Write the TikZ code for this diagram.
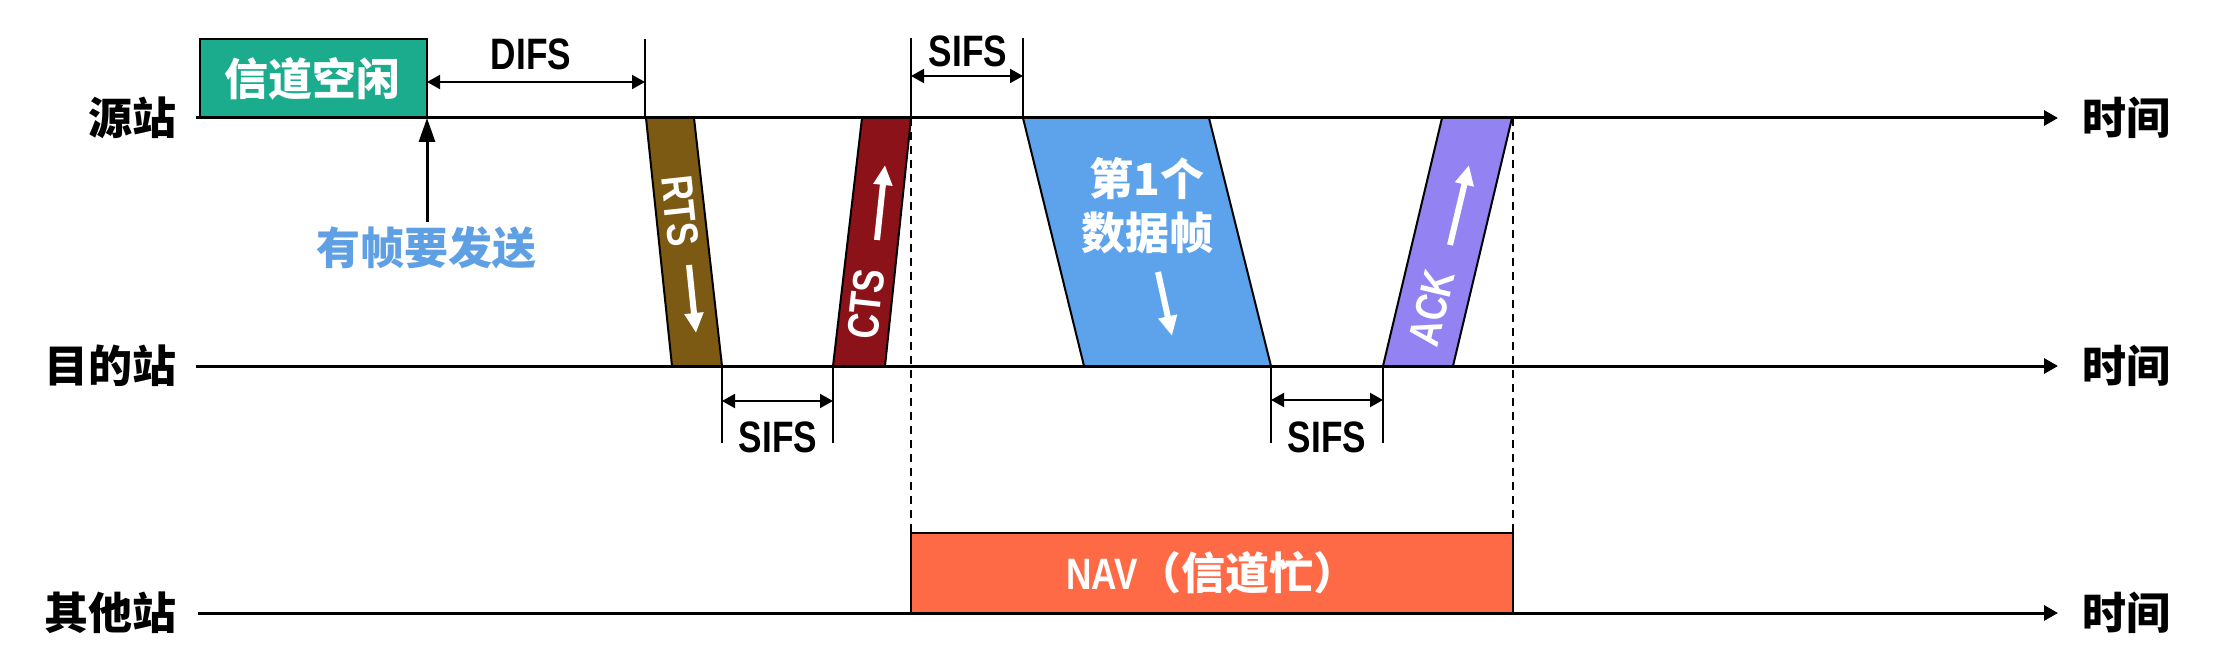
\documentclass[tikz,border=0pt]{standalone}
\usepackage{fontspec}
\setmainfont{Liberation Sans}
\newfontfamily\cjk{Noto Sans CJK SC}
\usetikzlibrary{arrows.meta}
\definecolor{idlec}{RGB}{26,172,140}
\definecolor{rtsc}{RGB}{125,90,20}
\definecolor{ctsc}{RGB}{140,18,26}
\definecolor{datac}{RGB}{92,163,236}
\definecolor{ackc}{RGB}{146,130,242}
\definecolor{navc}{RGB}{255,106,70}
\definecolor{sendc}{RGB}{95,160,228}
\newcommand\lat[1]{\scalebox{0.8}[1]{#1}}
\begin{document}
\begin{tikzpicture}[x=0.5pt,y=-0.5pt,
  font=\fontsize{22}{27}\selectfont\bfseries,
  timeline/.style={line width=1.5pt,-{Triangle[length=7pt,width=7.5pt]}},
  dimarrow/.style={line width=1pt,{Triangle[length=6.5pt,width=7pt]}-{Triangle[length=6.5pt,width=7pt]}},
  tickline/.style={line width=1pt},
  framebox/.style={draw=black,line width=1pt},
  guide/.style={line width=1pt,dash pattern=on 4pt off 3pt},
  lbl/.style={inner sep=0pt},
  wlbl/.style={inner sep=0pt,text=white},
  warrow/.style={white,line width=3pt,-{Triangle[length=10pt,width=9pt]}},
  uparrow/.style={line width=1.5pt,-{Triangle[length=12pt,width=8pt]}}]
\useasboundingbox (0,0) rectangle (2221,663);
\fill[white] (0,0) rectangle (2221,663);

% coordinates of the time lines
\coordinate (s0) at (196,118); \coordinate (s1) at (2058,118);
\coordinate (d0) at (196,366); \coordinate (d1) at (2058,366);
\coordinate (o0) at (198,613); \coordinate (o1) at (2058,613);

% channel idle box
\draw[framebox,fill=idlec] (200,39) rectangle (427,118);
\coordinate (idleSE) at (427,118);
\node[wlbl] (idle) at (312,79) {\cjk 信道空闲};

% frames
\draw[framebox,fill=rtsc] (646,118) -- (694,118) -- (722,366) -- (672,366) -- cycle;
\draw[framebox,fill=ctsc] (862,118) -- (911,118) -- (885,366) -- (833,366) -- cycle;
\draw[framebox,fill=datac] (1023,118) -- (1209,118) -- (1271,366) -- (1084,366) -- cycle;
\draw[framebox,fill=ackc] (1442,118) -- (1512,118) -- (1453,366) -- (1383,366) -- cycle;

% frame labels
\node[wlbl,rotate=-83.8] (rts) at (680,211) {\lat{RTS}};
\node[wlbl,rotate=83.7] (cts) at (866,304) {\lat{CTS}};
\node[wlbl,rotate=76.7] (ack) at (1431.5,308) {\lat{ACK}};
\node[wlbl,align=center] (data) at (1147,206) {\cjk 第1个\\\cjk 数据帧};

% white arrows inside frames
\coordinate (ra0) at (689,265); \coordinate (ra1) at (696,333);
\coordinate (ca0) at (877,240); \coordinate (ca1) at (885,165);
\coordinate (aa0) at (1450,245); \coordinate (aa1) at (1469,165);
\coordinate (da0) at (1158,272); \coordinate (da1) at (1172,336);
\draw[warrow] (ra0) -- (ra1);
\draw[warrow] (ca0) -- (ca1);
\draw[warrow] (aa0) -- (aa1);
\draw[warrow] (da0) -- (da1);

% dashed guides and NAV
\coordinate (g1a) at (911,118); \coordinate (g1b) at (911,533);
\coordinate (g2a) at (1513,118); \coordinate (g2b) at (1513,533);
\draw[guide] (g1a) -- (g1b);
\draw[guide] (g2a) -- (g2b);
\draw[framebox,fill=navc] (911,533) rectangle (1513,613);
\node[wlbl] (nav) at (1212,573) {\lat{NAV}\cjk （信道忙）};

% time lines
\draw[timeline] (s0) -- (s1);
\draw[timeline] (d0) -- (d1);
\draw[timeline] (o0) -- (o1);

% row labels
\node[lbl,anchor=east] (src) at (177,118) {\cjk 源站};
\node[lbl,anchor=east] (dst) at (177,366) {\cjk 目的站};
\node[lbl,anchor=east] (oth) at (177,613) {\cjk 其他站};
\node[lbl,anchor=west] (t1) at (2082,118) {\cjk 时间};
\node[lbl,anchor=west] (t2) at (2082,366) {\cjk 时间};
\node[lbl,anchor=west] (t3) at (2082,613) {\cjk 时间};

% frame to send
\node[lbl,text=sendc] (send) at (426,248) {\cjk 有帧要发送};
\draw[uparrow] (send.north -| idleSE) ++(0,-4) -- (idleSE);

% DIFS
\coordinate (df0) at (427,82); \coordinate (df1) at (645,82);
\draw[tickline] (645,39) -- (645,118);
\draw[dimarrow] (df0) -- (df1);
\node[lbl] (difs) at (531,54) {\lat{DIFS}};

% SIFS top
\coordinate (st0) at (911,76); \coordinate (st1) at (1023,76);
\draw[tickline] (911,38) -- (911,118);
\draw[tickline] (1023,38) -- (1023,118);
\draw[dimarrow] (st0) -- (st1);
\node[lbl] (sifs1) at (968,51) {\lat{SIFS}};

% SIFS bottom 1
\coordinate (sb0) at (722,401); \coordinate (sb1) at (833,401);
\draw[tickline] (722,366) -- (722,443);
\draw[tickline] (833,366) -- (833,443);
\draw[dimarrow] (sb0) -- (sb1);
\node[lbl] (sifs2) at (778,437) {\lat{SIFS}};

% SIFS bottom 2
\coordinate (sc0) at (1271,400); \coordinate (sc1) at (1383,400);
\draw[tickline] (1271,366) -- (1271,443);
\draw[tickline] (1383,366) -- (1383,443);
\draw[dimarrow] (sc0) -- (sc1);
\node[lbl] (sifs3) at (1327,437) {\lat{SIFS}};
\end{tikzpicture}
\end{document}
